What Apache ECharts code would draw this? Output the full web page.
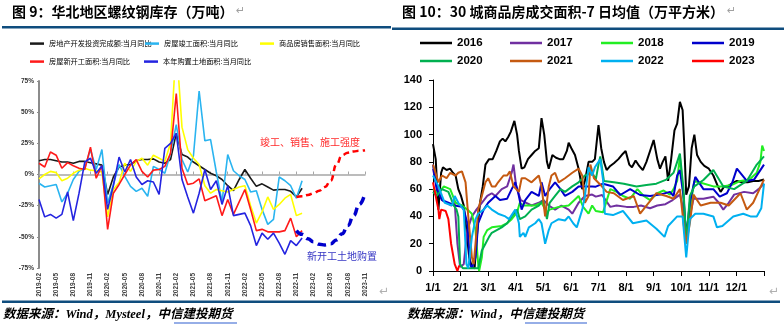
<!DOCTYPE html>
<html><head><meta charset="utf-8">
<script src="https://cdn.jsdelivr.net/npm/echarts@6/dist/echarts.min.js"></script>
<style>html,body{margin:0;padding:0;background:#fff}#c{width:784px;height:325px}</style>
</head><body><div id="c"></div>
<script>
// ---------- Left chart (图9) ----------
const months = ['2019-02','2019-03','2019-04','2019-05','2019-06','2019-07','2019-08','2019-09','2019-10','2019-11','2019-12',
 '2020-01','2020-02','2020-03','2020-04','2020-05','2020-06','2020-07','2020-08','2020-09','2020-10','2020-11','2020-12',
 '2021-01','2021-02','2021-03','2021-04','2021-05','2021-06','2021-07','2021-08','2021-09','2021-10','2021-11','2021-12',
 '2022-01','2022-02','2022-03','2022-04','2022-05','2022-06','2022-07','2022-08','2022-09','2022-10','2022-11','2022-12',
 '2023-01','2023-02','2023-03','2023-04','2023-05','2023-06','2023-07','2023-08','2023-09','2023-10','2023-11'];
const invest = [11,12,12,11,10,10,9,10.5,10.5,9.5,8.5,7.5,-16,-2,6,7.5,8,11,12,12,12.5,10,9,12,33,16,14,10,7,4,1,-1,-4,-9,-13,-4,4,-3,-9.5,-7.5,-10,-12.5,-12,-12,-13.5,-18,-11];
const completed = [-7,-10,-9,-8,-22,-15,-4,2.5,5,20,4,20,-23,-8,8,-1.5,-9.5,-13.5,-11,-17.5,6.5,4,1,17,40,12,2,15,67,27,28,2,-22,16,3,-1,-4,-14,-13,-28,-40,-36,-2,-5,-9,-19,-5];
const sales = [-3.5,0,2.5,1.5,-5,-3,1,3.5,5,3.5,3,2,-34,-12,-6.5,9,2.5,10.5,13,7.5,15.5,13,10.5,25,105,38,20,13,8,-9,-15,-12,-13,-14,-12,-10,-9,-25,-39,-30,-18,-28,-24,-19,-16,-33,-31];
const newStarts = [9,6,18,15.5,5,9.5,7,5,4,22,-3,7,-44,-15,-8,0,7.5,12,2.5,-2,3.5,4,6.5,17,65,5,-8,-7,-3.5,-21,-19,-17,-33,-20,-32,-22,-12,-28,-45,-44,-46,-46,-46,-45,-35,-50,-45];
const landBuy = [-20,-34,-32,-35,-32,-14,-37,-15,10,13,1,7,-28,-9,14,2,12,-2,-8,-5,-6,-16,21,25,33,-4,-18,-31,-15,4,-12,-5,-24,-9,-33,-32,-31,-41,-57,-47,-52,-47,-55,-64,-53,-57,-51];
// projected paths (from 2022-11 onward)
const projRed  = [-18,-17.5,-16.5,-15,-13,-10,-5,8,15.5,17.5,18.5,19,19.5];
const projBlue = [-45,-48,-51.5,-54,-56,-56.5,-55.5,-52.5,-47.5,-41,-33,-24,-15];
const projStart = 45;
const leftNames = ['房地产开发投资完成额:当月同比','房屋竣工面积:当月同比','商品房销售面积:当月同比','房屋新开工面积:当月同比','本年购置土地面积:当月同比'];
const leftYTicks = [-75,-50,-25,0,25,50,75];

// ---------- Right chart (图10) ----------
const monthLabels = ['1/1','2/1','3/1','4/1','5/1','6/1','7/1','8/1','9/1','10/1','11/1','12/1',''];
const years = ['2016','2017','2018','2019','2020','2021','2022','2023'];
const y2016 = [[0,93],[3,82],[6,45],[9,72],[11,76],[15,74],[19,75],[22,72],[25,70],[28,60],[31,55],[34,48],[37,30],[40,10],[43,3],[46,2],[49,30],[52,50],[55,62],[58,78],[62,82],[66,82],[70,88],[74,95],[77,97],[80,95],[83,98],[86,102],[90,110],[93,100],[95,88],[98,75],[101,76],[105,82],[109,85],[113,88],[117,90],[120,112],[123,100],[126,80],[128,75],[132,85],[136,83],[140,82],[144,82],[148,88],[150,94],[153,90],[157,85],[161,75],[165,60],[168,66],[172,80],[176,80],[179,82],[183,107],[186,90],[189,80],[192,74],[196,77],[200,79],[205,82],[210,86],[213,88],[217,78],[220,76],[224,81],[228,77],[232,74],[236,80],[240,88],[244,96],[248,82],[251,75],[254,80],[257,84],[260,66],[263,80],[267,103],[270,108],[273,124],[276,118],[278,90],[280,56],[283,62],[286,90],[289,100],[292,85],[296,80],[300,77],[305,75],[310,70],[315,62],[318,58],[322,62],[326,62],[330,64],[336,66],[342,65],[348,65],[354,66],[360,66],[366,67]];
const y2017 = [[0,75],[4,62],[10,52],[15,50],[20,48],[24,50],[27,20],[30,3],[34,5],[38,30],[43,40],[48,45],[54,50],[60,55],[65,57],[69,55],[76,60],[82,62],[87,72],[89,78],[92,62],[97,52],[109,48],[117,50],[122,52],[128,48],[135,45],[142,48],[150,45],[154,42],[161,50],[168,55],[176,56],[180,54.5],[187,55.7],[196,47],[203,48],[214,47],[222,47],[230,48],[240,46],[248,48],[257,49],[265,52],[273,56],[277,45],[280,25],[284,40],[288,53],[299,53],[310,54.5],[316,50],[321,45],[327,50],[333,56],[344,58],[354,57],[360,60],[366,64]];
const y2018 = [[0,60],[6,57],[12,62],[19,60],[25,50],[32,48],[38,45],[43,42],[47,30],[50,5],[51,0],[54,10],[56,25],[60,30],[65,32],[76,33],[82,35],[87,38],[93,43],[96,50],[100,48],[113,48],[120,50],[126,43],[129,45],[139,47],[150,48],[161,55],[166,47],[172,42],[176,48],[180,44],[188,43],[196,60],[203,58],[210,55],[218,53],[226,60],[233,55],[240,52],[248,57],[255,59],[262,56],[266,60],[270,66],[273,84],[276,62],[280,25],[284,45],[289,66],[300,64],[310,62],[320,62],[330,63],[340,66],[350,67],[358,72],[362,80],[364,92],[366,88]];
const y2019 = [[0,78],[4,60],[10,52],[17,50],[24,48],[32,47],[34,45],[38,35],[41,5],[43,2],[47,10],[50,35],[56,45],[61,50],[69,55],[74,52],[82,53],[87,60],[91,65],[94,58],[98,45],[102,52],[109,58],[117,55],[120,65],[124,55],[129,60],[135,65],[141,60],[146,55],[154,58],[161,62],[168,62],[176,62],[180,61.8],[188,64],[199,62],[207,55.7],[218,60],[229,55.7],[240,55],[251,56],[262,58],[266,55],[270,70],[273,74],[277,55],[280,25],[284,50],[290,69],[299,60],[310,60],[317,54.5],[325,57],[331,65],[336,75],[347,66],[355,67],[366,78]];
const y2020 = [[0,58],[4,55],[10,60],[17,58],[23,48],[26,45],[28,40],[30,5],[33,2],[40,2],[50,2],[54,15],[58,20],[62,25],[65,28],[76,32],[82,35],[87,40],[93,45],[96,38],[102,40],[109,45],[117,48],[122,52],[126,38],[129,50],[135,55],[141,60],[146,58],[154,62],[161,65],[168,70],[176,72],[180,67],[183,78],[185,84],[189,66],[200,65],[211,64],[225,62],[236,63],[247,64],[258,67],[266,72],[270,80],[273,86],[277,60],[280,20],[284,55],[289,62],[299,66.7],[310,74],[321,62],[333,60],[347,66],[358,78],[366,84]];
const y2021 = [[0,78],[6,65],[10,70],[15,68],[19,72],[25,70],[28,72],[32,73],[36,65],[39,40],[43,10],[45,5],[47,20],[50,45],[54,55],[58,65],[61,68],[65,62],[69,62],[72,65],[78,70],[82,70],[85,73],[89,62],[95,58],[98,68],[102,68],[109,65],[117,70],[120,62],[124,40],[128,62],[131,70],[135,72],[139,65],[146,68],[154,72],[161,75],[165,70],[168,50],[172,55],[174,78],[178,68],[184,64],[192,58],[200,57],[210,52],[222,55],[229,42],[236,48],[247,57],[258,55],[266,53],[273,60],[277,35],[280,20],[284,35],[288,56],[296,48],[307,50],[318,50],[327,48],[340,57],[347,45],[354,50],[366,67]];
const y2022 = [[0,70],[6,62],[10,55],[13,50],[21,48],[24,55],[28,50],[34,45],[37,5],[39,2],[43,25],[47,38],[50,42],[56,45],[60,48],[65,45],[72,42],[80,40],[84,38],[91,45],[95,35],[96,25],[100,28],[102,25],[106,32],[113,35],[117,38],[120,35],[124,20],[128,30],[131,35],[139,38],[146,37],[150,40],[155,35],[159,32],[165,45],[168,55],[172,76],[176,70],[179,76],[185,82],[188,67],[190,42],[199,41],[210,44],[221,35],[236,37],[247,31],[256,25],[260,33],[270,40],[276,40],[280,10],[284,38],[290,42],[299,42],[310,40],[314,32],[320,33],[332,40],[343,42],[351,40],[358,40],[363,46],[366,64]];
const y2023 = [[0,65],[3,55],[6,45],[7,38],[9,45],[14,44],[17,38],[20,20],[24,5],[27,0],[29,4]];
const rightData = [y2016,y2017,y2018,y2019,y2020,y2021,y2022,y2023];
const rightColors = ['#000000','#7030a0','#22ee22','#0000cc','#00b050','#c55a11','#00b0f0','#ff0000'];

const LAT = '"Liberation Sans", Arial, sans-serif';
const CJK = '"Noto Sans CJK SC", sans-serif';
const leftColors = ['#1a1a1a','#2ab4f0','#ffff00','#ff1a1a','#2424e0'];
const leftData = [invest, completed, sales, newStarts, landBuy];
const leftLegendPos = [[30,40],[145,40],[260,40],[30,58],[144,58]];
const rightLegendPos = [[420,37],[510,37],[601,37],[692,37],[420,55],[510,55],[601,55],[692,55]];

function padProj(arr){ const out = new Array(months.length).fill(null); arr.forEach((v,i)=>{ out[projStart+i]=v; }); return out; }

const chart = echarts.init(document.getElementById('c'), null, {renderer:'canvas'});
const legends = [];
leftNames.forEach((n,i)=>legends.push({data:[{name:n, icon:'rect', itemStyle:{color:leftColors[i]}}], left:leftLegendPos[i][0], top:leftLegendPos[i][1], padding:0, itemWidth:14, itemHeight:2.5, selectedMode:false,
  textStyle:{fontSize:7.2, fontFamily:CJK, color:'#000'}}));
years.forEach((n,i)=>legends.push({data:[{name:n, icon:'rect', itemStyle:{color:rightColors[i]}}], left:rightLegendPos[i][0], top:rightLegendPos[i][1], padding:0, itemWidth:32, itemHeight:2.5, selectedMode:false,
  textStyle:{fontSize:11.5, fontWeight:'bold', fontFamily:LAT, color:'#000'}}));

const series = [];
leftNames.forEach((n,i)=>series.push({name:n, type:'line', xAxisIndex:0, yAxisIndex:0, data:leftData[i], symbol:'none',
  lineStyle:{width:1.6, color:leftColors[i]}, itemStyle:{color:leftColors[i]}, z:2+i}));
series.push({name:'projRed', type:'line', xAxisIndex:0, yAxisIndex:0, data:padProj(projRed), symbol:'none', smooth:0.5, smoothMonotone:'x',
  lineStyle:{width:2.5, color:'#ff0000', type:[6,4]}, z:8});
series.push({name:'projBlue', type:'line', xAxisIndex:0, yAxisIndex:0, data:padProj(projBlue), symbol:'none', smooth:0.5, smoothMonotone:'x',
  lineStyle:{width:3.5, color:'#0000cc', type:[8,5]}, z:8});
years.forEach((n,i)=>series.push({name:n, type:'line', xAxisIndex:2, yAxisIndex:1, data:rightData[i], symbol:'none',
  lineStyle:{width:2, color:rightColors[i]}, itemStyle:{color:rightColors[i]}, z:2+i}));

const option = {
  animation:false,
  backgroundColor:'#fff',
  legend: legends,
  grid:[
    {left:39, right:419, top:81, bottom:57, outerBoundsMode:'none', containLabel:false},
    {left:433, right:20, top:80, bottom:54, outerBoundsMode:'none', containLabel:false}
  ],
  xAxis:[
    {type:'category', gridIndex:0, data:months, boundaryGap:false, position:'bottom',
     axisLine:{show:false, onZero:false}, axisTick:{show:false}, splitLine:{show:false},
     axisLabel:{rotate:90, interval:2, fontSize:6.5, fontWeight:'bold', fontFamily:LAT, color:'#404040', margin:5}},
    {type:'category', gridIndex:0, data:months, boundaryGap:false,
     axisLine:{show:true, onZero:true, lineStyle:{color:'#a6a6a6', width:1.5}},
     axisTick:{show:true, interval:2, length:3, lineStyle:{color:'#a6a6a6', width:1}},
     axisLabel:{show:false}, splitLine:{show:false}},
    {type:'value', gridIndex:1, min:0, max:366, interval:30.5,
     axisLine:{show:true, lineStyle:{color:'#000', width:1}},
     axisTick:{show:true, length:5, lineStyle:{color:'#000'}},
     splitLine:{show:false},
     axisLabel:{fontSize:11, fontWeight:'bold', fontFamily:LAT, color:'#000', margin:11,
       formatter:(v)=>monthLabels[Math.round(v/30.5)] || ''}}
  ],
  yAxis:[
    {type:'value', gridIndex:0, min:leftYTicks[0], max:leftYTicks[leftYTicks.length-1], interval:25,
     axisLine:{show:true, lineStyle:{color:'#8c8c8c', width:2}},
     axisTick:{show:true, length:2, lineStyle:{color:'#8c8c8c'}},
     splitLine:{show:false},
     axisLabel:{formatter:'{value}%', fontSize:6.5, fontWeight:'bold', fontFamily:LAT, color:'#333', margin:5}},
    {type:'value', gridIndex:1, min:0, max:140, interval:20,
     axisLine:{show:true, lineStyle:{color:'#000', width:1}},
     axisTick:{show:true, length:4, lineStyle:{color:'#000'}},
     splitLine:{show:false},
     axisLabel:{fontSize:11, fontWeight:'bold', fontFamily:LAT, color:'#000', margin:11}}
  ],
  series: series,
  graphic:{elements:[
    {type:'text', left:12, top:5, style:{text:'图 9：华北地区螺纹钢库存（万吨）', font:'bold 14px "Noto Sans CJK SC", sans-serif', fill:'#000'}},
    {type:'text', left:236, top:6, style:{text:'↵', font:'11px "DejaVu Sans", sans-serif', fill:'#a0a0a0'}},
    {type:'text', left:402, top:5, style:{text:'图 10：30 城商品房成交面积-7 日均值（万平方米）', font:'bold 14px "Noto Sans CJK SC", sans-serif', fill:'#000'}},
    {type:'text', left:727, top:6, style:{text:'↵', font:'11px "DejaVu Sans", sans-serif', fill:'#a0a0a0'}},
    {type:'rect', shape:{x:2, y:26, width:389, height:2.5}, style:{fill:'#0f4d7e'}},
    {type:'rect', shape:{x:392, y:27.5, width:392, height:2.5}, style:{fill:'#0f4d7e'}},
    {type:'rect', shape:{x:2, y:300.5, width:390, height:2.5}, style:{fill:'#0f4d7e'}},
    {type:'rect', shape:{x:392, y:300.5, width:388, height:2.5}, style:{fill:'#0f4d7e'}},
    {type:'text', left:379, top:286, style:{text:'↵', font:'12px "DejaVu Sans", sans-serif', fill:'#b0b0b0'}},
    {type:'text', left:769, top:286, style:{text:'↵', font:'12px "DejaVu Sans", sans-serif', fill:'#b0b0b0'}},
    {type:'text', left:3, top:309, style:{text:'数据来源：Wind，Mysteel，中信建投期货', font:'italic bold 12.5px "Liberation Serif", "Noto Sans CJK SC", serif', fill:'#000'}},
    {type:'text', left:407, top:309, style:{text:'数据来源：Wind，中信建投期货', font:'italic bold 12.5px "Liberation Serif", "Noto Sans CJK SC", serif', fill:'#000'}},
    {type:'rect', shape:{x:174, y:322.5, width:63, height:1}, style:{fill:'#2f5fd0'}},
    {type:'rect', shape:{x:525, y:322.5, width:62, height:1}, style:{fill:'#2f5fd0'}},
    {type:'text', left:260, top:137, style:{text:'竣工、销售、施工强度', font:'10px "Noto Sans CJK SC", sans-serif', fill:'#ff2a2a'}},
    {type:'text', left:307, top:251, style:{text:'新开工土地购置', font:'10px "Noto Sans CJK SC", sans-serif', fill:'#3434c4'}}
  ]}
};
chart.setOption(option);
</script>
</body></html>
